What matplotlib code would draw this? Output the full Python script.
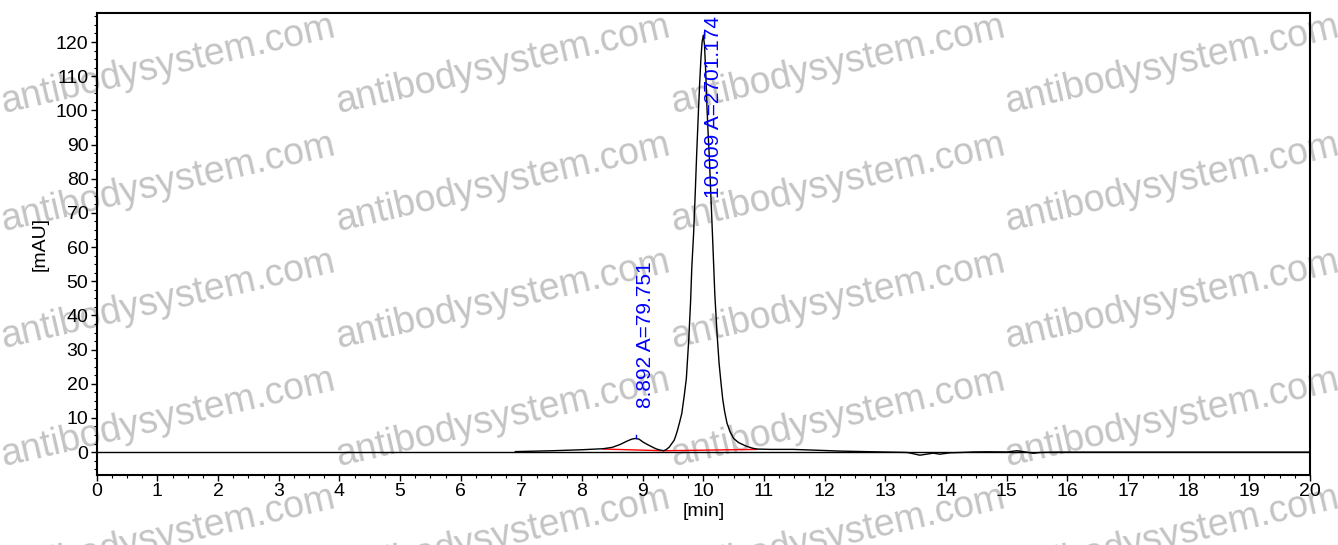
import matplotlib
matplotlib.use("Agg")
import matplotlib.pyplot as plt
from matplotlib.ticker import MultipleLocator

plt.rcParams["font.family"] = ["Liberation Sans", "DejaVu Sans"]

# chromatogram trace (min, mAU)
rt = [6.9, 7.5, 8.0, 8.35, 8.5, 8.63, 8.74, 8.82, 8.88, 8.94, 9.01, 9.07, 9.12, 9.18,
      9.23, 9.29, 9.35, 9.40, 9.44, 9.48, 9.52, 9.55, 9.574, 9.61, 9.645, 9.683, 9.72,
      9.76, 9.79, 9.81, 9.84, 9.865, 9.89, 9.92, 9.94, 9.96, 9.98, 10.0, 10.02, 10.04,
      10.06, 10.08, 10.10, 10.12, 10.15, 10.17, 10.19, 10.225, 10.26, 10.29, 10.32, 10.35,
      10.39, 10.44, 10.50, 10.58, 10.70, 10.80, 10.88, 11.1, 11.48, 11.8, 12.26, 12.8,
      13.36, 13.47, 13.57, 13.68, 13.79, 13.9, 14.07, 14.25, 14.45, 14.7, 15.01, 15.17,
      15.33, 15.44, 15.55, 15.8, 16.5, 20.0]
signal = [0.15, 0.4, 0.7, 1.0, 1.4, 2.25, 3.2, 3.8, 4.0, 3.8, 2.9, 2.3, 1.85, 1.3,
          0.9, 0.6, 0.4, 0.9, 1.5, 2.5, 3.5, 5.0, 6.4, 8.8, 11.3, 16.2, 21.5,
          33.0, 44.0, 54.0, 64.0, 75.0, 87.0, 100.0, 108.0, 115.0, 120.0, 122.0, 119.0, 111.0,
          101.0, 93.0, 86.0, 77.0, 64.0, 55.0, 46.0, 35.0, 26.0, 20.5, 15.5, 12.0,
          8.5, 6.0, 4.0, 2.8, 1.8, 1.2, 0.9, 0.8, 0.8, 0.6, 0.3, 0.1,
          -0.1, -0.5, -0.9, -0.6, -0.3, -0.6, -0.2, -0.1, 0.05, 0.1, 0.05, 0.4,
          0.0, -0.35, -0.1, 0.0, 0.0, 0.0]

# integration baseline (red)
base_rt = [8.35, 9.35, 10.88]
base_val = [0.9, 0.4, 0.8]

# integrated peaks
peak_rt = [8.892, 10.009]
peak_area = [79.751, 2701.174]
peak_apex = [4.0, 122.0]

fig = plt.figure(figsize=(13.38, 5.45), dpi=100)
ax = fig.add_axes([0.0723, 0.1284, 0.9067, 0.8478])
ax.patch.set_alpha(0)

# watermark tiles behind the plot (cut at the edges, like the original)
for cx in [168, 503, 838, 1172]:
    for cy in [65, 183, 300, 418, 536]:
        fig.text(cx / 1338, 1 - cy / 545, "antibodysystem.com", fontsize=27,
                 color="#c4c4c4", rotation=13, ha="center", va="center",
                 rotation_mode="anchor", zorder=-1)

ax.axhline(0, color="black", linewidth=1.0, zorder=1)
ax.plot(base_rt, base_val, color="red", linewidth=1.0, zorder=2)
ax.plot(rt, signal, color="black", linewidth=1.0, zorder=3)

label_y = [12.8, 74.5]
for t, a, h, ly in zip(peak_rt, peak_area, peak_apex, label_y):
    ax.plot([t, t], [h, h + 1.0], color="blue", linewidth=1.0, zorder=4)
    ax.text(t, ly, f"{t:.3f} A={a:.3f}", rotation=90, color="blue", fontsize=15,
            ha="left", va="bottom", zorder=5, clip_on=False)

ax.set_xlim(0, 20)
ax.set_ylim(-6.7, 128.5)
ax.xaxis.set_major_locator(MultipleLocator(1))
ax.xaxis.set_minor_locator(MultipleLocator(0.25))
ax.yaxis.set_major_locator(MultipleLocator(10))
ax.yaxis.set_minor_locator(MultipleLocator(2.5))
ax.tick_params(which="major", direction="out", length=4, width=1.0, labelsize=14, pad=2)
ax.tick_params(which="minor", direction="out", length=2, width=0.8)
for s in ax.spines.values():
    s.set_linewidth(1.5)

ax.set_xlabel("[min]", fontsize=14, labelpad=2)
ax.set_ylabel("[mAU]", fontsize=14, labelpad=5)

fig.savefig("out.png", dpi=100)
